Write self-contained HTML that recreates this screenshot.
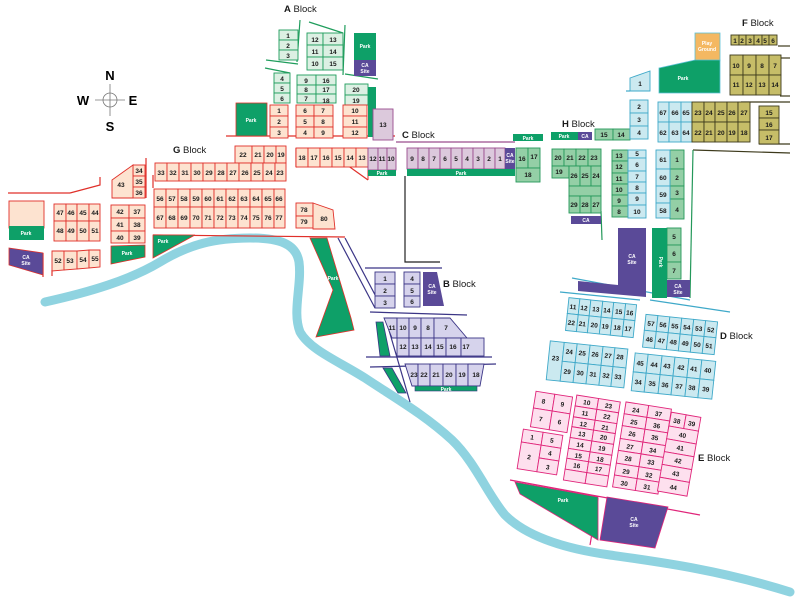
<!DOCTYPE html>
<html><head><meta charset="utf-8"><style>
html,body{margin:0;padding:0;background:#fff;}
svg{display:block;}
text{font-family:"Liberation Sans",sans-serif;}
.t{font-size:6.5px;font-weight:bold;fill:#1a1a1a;text-anchor:middle;}
.w{font-size:5px;font-weight:bold;fill:#fff;text-anchor:middle;}
.lb{font-size:9.5px;fill:#1a1a1a;}
.g rect,.g polygon{fill:#fde3d0;stroke:#e0302a;stroke-width:.9;}
.a rect{fill:#dcf0e3;stroke:#1f9d5c;stroke-width:.9;}
.c rect,.c polygon{fill:#dcc9dc;stroke:#9a4d8e;stroke-width:.9;}
.b rect,.b polygon{fill:#d6d3ec;stroke:#3b3586;stroke-width:.9;}
.h rect{fill:#94cfa6;stroke:#24985a;stroke-width:.9;}
.l rect,.l polygon{fill:#cbe9f0;stroke:#3fa9c9;stroke-width:.9;}
.f rect{fill:#c6bd68;stroke:#3d3a1c;stroke-width:.9;}
.e rect{fill:#fde0ee;stroke:#e0257a;stroke-width:.9;}
.pk{fill:#0ea068;}
.ca{fill:#5a4a98;}
line,polyline{fill:none;}
</style></head><body>
<svg width="800" height="600" viewBox="0 0 800 600" xmlns="http://www.w3.org/2000/svg">
<path d="M45,302 C90,292 130,280 160,262 C190,244 215,238 250,238 C280,238 296,244 299,262 C302,285 292,312 300,332 C310,350 340,362 365,378 C395,398 425,415 452,440 C475,462 488,495 505,515 C525,535 560,548 610,555 C660,562 720,570 790,592" stroke="#8fd3e0" stroke-width="9" fill="none" stroke-linecap="round"/>

<g stroke="#777" stroke-width=".8" fill="none"><circle cx="110" cy="100" r="7"/><line x1="95" y1="100" x2="125" y2="100"/><line x1="110" y1="84" x2="110" y2="116"/></g>
<text x="110" y="80" style="font-size:13px;font-weight:bold;text-anchor:middle">N</text>
<text x="110" y="131" style="font-size:13px;font-weight:bold;text-anchor:middle">S</text>
<text x="83" y="105" style="font-size:13px;font-weight:bold;text-anchor:middle">W</text>
<text x="133" y="105" style="font-size:13px;font-weight:bold;text-anchor:middle">E</text>

<text class="lb" x="284" y="12"><tspan font-weight="bold">A</tspan> Block</text>
<text class="lb" x="173" y="153"><tspan font-weight="bold">G</tspan> Block</text>
<text class="lb" x="402" y="138"><tspan font-weight="bold">C</tspan> Block</text>
<text class="lb" x="562" y="127"><tspan font-weight="bold">H</tspan> Block</text>
<text class="lb" x="742" y="26"><tspan font-weight="bold">F</tspan> Block</text>
<text class="lb" x="443" y="287"><tspan font-weight="bold">B</tspan> Block</text>
<text class="lb" x="720" y="339"><tspan font-weight="bold">D</tspan> Block</text>
<text class="lb" x="698" y="461"><tspan font-weight="bold">E</tspan> Block</text>

<g stroke-width="1.2">
<line x1="300" y1="20" x2="297" y2="62" stroke="#1f9d5c"/>
<line x1="309" y1="22" x2="343" y2="33" stroke="#1f9d5c"/>
<line x1="266" y1="60" x2="298" y2="64" stroke="#1f9d5c"/>
<line x1="265" y1="68" x2="290" y2="73" stroke="#1f9d5c"/>
<line x1="345" y1="74" x2="378" y2="79" stroke="#1f9d5c"/>
<line x1="345" y1="25" x2="343" y2="75" stroke="#1f9d5c"/>
<line x1="226" y1="136" x2="395" y2="136" stroke="#e0302a"/>
<line x1="8" y1="193" x2="70" y2="193" stroke="#e0302a"/>
<polyline points="70,193 100,185 100,177" stroke="#e0302a"/>
<line x1="146" y1="158" x2="146" y2="198" stroke="#e0302a"/>
<line x1="153" y1="175" x2="153" y2="188" stroke="#e0302a"/>
<line x1="296" y1="148" x2="296" y2="167" stroke="#e0302a"/>
<line x1="153" y1="235" x2="345" y2="237" stroke="#e0302a"/>
<line x1="43" y1="253" x2="43" y2="277" stroke="#e0302a"/>
<line x1="52" y1="270" x2="52" y2="276" stroke="#e0302a"/>
<polyline points="296,167 340,160 368,180" stroke="#e0302a"/>
<line x1="396" y1="142" x2="515" y2="142" stroke="#9a4d8e"/>
<polyline points="405,176 405,262 440,262" stroke="#222"/>
<line x1="338" y1="238" x2="375" y2="308" stroke="#3b3586"/>
<line x1="345" y1="238" x2="382" y2="308" stroke="#3b3586"/>
<line x1="365" y1="268" x2="442" y2="268" stroke="#3b3586"/>
<line x1="370" y1="312" x2="467" y2="315" stroke="#3b3586"/>
<line x1="366" y1="357" x2="492" y2="357" stroke="#3b3586"/>
<line x1="370" y1="367" x2="496" y2="364" stroke="#3b3586"/>
<line x1="386" y1="320" x2="410" y2="402" stroke="#3b3586"/>
<line x1="693" y1="150" x2="790" y2="153" stroke="#3d3a1c"/>
<line x1="693" y1="150" x2="690" y2="298" stroke="#24985a"/>
<line x1="741" y1="102" x2="790" y2="102" stroke="#3d3a1c"/>
<line x1="780" y1="58" x2="790" y2="58" stroke="#3d3a1c"/>
<line x1="780" y1="96" x2="790" y2="96" stroke="#3d3a1c"/>
<line x1="778" y1="46" x2="790" y2="46" stroke="#3d3a1c"/>
<line x1="759" y1="144" x2="790" y2="144" stroke="#3d3a1c"/>
<line x1="626" y1="91" x2="630" y2="91" stroke="#3fa9c9"/>
<line x1="572" y1="278" x2="690" y2="300" stroke="#3fa9c9"/>
<line x1="560" y1="292" x2="640" y2="300" stroke="#3fa9c9"/>
<line x1="650" y1="300" x2="730" y2="312" stroke="#3fa9c9"/>
<line x1="510" y1="480" x2="700" y2="515" stroke="#e0257a"/>
<line x1="598" y1="498" x2="590" y2="545" stroke="#e0257a"/>
<line x1="601" y1="211" x2="602" y2="240" stroke="#24985a"/>
</g>

<g class="a">
<rect x="279" y="30" width="19" height="10"/><rect x="279" y="40" width="19" height="10"/><rect x="279" y="50" width="19" height="10"/>
<rect x="307" y="33" width="16" height="12"/><rect x="323" y="33" width="20" height="12"/>
<rect x="307" y="45" width="16" height="12"/><rect x="323" y="45" width="20" height="12"/>
<rect x="307" y="57" width="16" height="13"/><rect x="323" y="57" width="20" height="13"/>
<rect x="274" y="73" width="16" height="10"/><rect x="274" y="83" width="16" height="10"/><rect x="274" y="93" width="16" height="10"/>
<rect x="297" y="75" width="19" height="10"/><rect x="316" y="75" width="20" height="10"/>
<rect x="297" y="85" width="19" height="9"/><rect x="316" y="85" width="20" height="9"/>
<rect x="297" y="94" width="19" height="9"/><rect x="316" y="94" width="20" height="9"/>
<rect x="345" y="84" width="23" height="11"/><rect x="345" y="95" width="23" height="10"/>
</g>
<text class="t" x="288" y="38">1</text><text class="t" x="288" y="48">2</text><text class="t" x="288" y="58">3</text>
<text class="t" x="315" y="42">12</text><text class="t" x="333" y="42">13</text>
<text class="t" x="315" y="54">11</text><text class="t" x="333" y="54">14</text>
<text class="t" x="315" y="66">10</text><text class="t" x="333" y="66">15</text>
<text class="t" x="282" y="81">4</text><text class="t" x="282" y="91">5</text><text class="t" x="282" y="101">6</text>
<text class="t" x="306" y="83">9</text><text class="t" x="326" y="83">16</text>
<text class="t" x="306" y="92">8</text><text class="t" x="326" y="92">17</text>
<text class="t" x="306" y="101">7</text><text class="t" x="326" y="103">18</text>
<text class="t" x="356" y="92">20</text><text class="t" x="356" y="103">19</text>
<rect class="pk" x="354" y="33" width="22" height="27"/><text class="w" x="365" y="48">Park</text>
<rect class="ca" x="354" y="60" width="22" height="16"/><text class="w" x="365" y="67">CA</text><text class="w" x="365" y="73">Site</text>
<rect class="pk" x="368" y="87" width="8" height="50"/>
<rect class="pk" x="236" y="103" width="31" height="33" stroke="#e0302a" stroke-width=".8"/><text class="w" x="251" y="122">Park</text>

<g class="g">
<rect x="270" y="105" width="18" height="11"/><rect x="270" y="116" width="18" height="11"/><rect x="270" y="127" width="18" height="11"/>
<rect x="296" y="105" width="18" height="11"/><rect x="314" y="105" width="19" height="11"/>
<rect x="296" y="116" width="18" height="11"/><rect x="314" y="116" width="19" height="11"/>
<rect x="296" y="127" width="18" height="11"/><rect x="314" y="127" width="19" height="11"/>
<rect x="343" y="105" width="24" height="11"/><rect x="343" y="116" width="24" height="11"/><rect x="343" y="127" width="24" height="11"/>
<rect x="235" y="146" width="17" height="17"/><rect x="252" y="146" width="12" height="17"/><rect x="264" y="146" width="12" height="17"/><rect x="276" y="146" width="10" height="17"/>
<rect x="155" y="163" width="12" height="18"/><rect x="167" y="163" width="12" height="18"/><rect x="179" y="163" width="12" height="18"/><rect x="191" y="163" width="12" height="18"/><rect x="203" y="163" width="12" height="18"/><rect x="215" y="163" width="12" height="18"/><rect x="227" y="163" width="12" height="18"/><rect x="239" y="163" width="12" height="18"/><rect x="251" y="163" width="12" height="18"/><rect x="263" y="163" width="12" height="18"/><rect x="275" y="163" width="11" height="18"/>
<rect x="154" y="189" width="12" height="18"/><rect x="166" y="189" width="12" height="18"/><rect x="178" y="189" width="12" height="18"/><rect x="190" y="189" width="12" height="18"/><rect x="202" y="189" width="12" height="18"/><rect x="214" y="189" width="12" height="18"/><rect x="226" y="189" width="12" height="18"/><rect x="238" y="189" width="12" height="18"/><rect x="250" y="189" width="12" height="18"/><rect x="262" y="189" width="12" height="18"/><rect x="274" y="189" width="11" height="18"/>
<rect x="154" y="207" width="12" height="21"/><rect x="166" y="207" width="12" height="21"/><rect x="178" y="207" width="12" height="21"/><rect x="190" y="207" width="12" height="21"/><rect x="202" y="207" width="12" height="21"/><rect x="214" y="207" width="12" height="21"/><rect x="226" y="207" width="12" height="21"/><rect x="238" y="207" width="12" height="21"/><rect x="250" y="207" width="12" height="21"/><rect x="262" y="207" width="12" height="21"/><rect x="274" y="207" width="11" height="21"/>
<rect x="296" y="148" width="12" height="19"/><rect x="308" y="148" width="12" height="19"/><rect x="320" y="148" width="12" height="19"/><rect x="332" y="148" width="12" height="19"/><rect x="344" y="148" width="12" height="19"/><rect x="356" y="148" width="12" height="19"/>
<rect x="296" y="203" width="17" height="13"/><rect x="296" y="216" width="17" height="12"/>
<polygon points="313,203 333,210 335,229 313,229"/>
<rect x="133" y="165" width="12" height="11"/><rect x="133" y="176" width="12" height="11"/><rect x="133" y="187" width="12" height="11"/>
<polygon points="112,180 133,165 133,198 112,198"/>
<rect x="111" y="205" width="18" height="13"/><rect x="129" y="205" width="16" height="13"/>
<rect x="111" y="218" width="18" height="13"/><rect x="129" y="218" width="16" height="13"/>
<rect x="111" y="231" width="18" height="12"/><rect x="129" y="231" width="16" height="12"/>
<rect x="54" y="204" width="12" height="17"/><rect x="66" y="204" width="11" height="17"/><rect x="77" y="204" width="12" height="17"/><rect x="89" y="204" width="11" height="17"/>
<rect x="54" y="221" width="12" height="20"/><rect x="66" y="221" width="11" height="20"/><rect x="77" y="221" width="12" height="20"/><rect x="89" y="221" width="11" height="20"/>
<polygon points="52,251 64,251 64,270 52,271"/><polygon points="64,251 77,251 77,269 64,270"/><polygon points="77,251 89,250 89,268 77,269"/><polygon points="89,250 100,250 100,267 89,268"/>
<rect x="9" y="201" width="35" height="27"/>
</g>
<polyline points="368,167 368,180" stroke="#e0302a"/>
<text class="t" x="279" y="113">1</text><text class="t" x="279" y="124">2</text><text class="t" x="279" y="135">3</text>
<text class="t" x="305" y="113">6</text><text class="t" x="323" y="113">7</text>
<text class="t" x="305" y="124">5</text><text class="t" x="323" y="124">8</text>
<text class="t" x="305" y="135">4</text><text class="t" x="323" y="135">9</text>
<text class="t" x="355" y="113">10</text><text class="t" x="355" y="124">11</text><text class="t" x="355" y="135">12</text>
<text class="t" x="243" y="157">22</text><text class="t" x="258" y="157">21</text><text class="t" x="270" y="157">20</text><text class="t" x="281" y="157">19</text>
<g class="t">
<text x="161" y="175">33</text><text x="173" y="175">32</text><text x="185" y="175">31</text><text x="197" y="175">30</text><text x="209" y="175">29</text><text x="221" y="175">28</text><text x="233" y="175">27</text><text x="245" y="175">26</text><text x="257" y="175">25</text><text x="269" y="175">24</text><text x="280" y="175">23</text>
<text x="160" y="201">56</text><text x="172" y="201">57</text><text x="184" y="201">58</text><text x="196" y="201">59</text><text x="208" y="201">60</text><text x="220" y="201">61</text><text x="232" y="201">62</text><text x="244" y="201">63</text><text x="256" y="201">64</text><text x="268" y="201">65</text><text x="279" y="201">66</text>
<text x="160" y="220">67</text><text x="172" y="220">68</text><text x="184" y="220">69</text><text x="196" y="220">70</text><text x="208" y="220">71</text><text x="220" y="220">72</text><text x="232" y="220">73</text><text x="244" y="220">74</text><text x="256" y="220">75</text><text x="268" y="220">76</text><text x="279" y="220">77</text>
<text x="302" y="160">18</text><text x="314" y="160">17</text><text x="326" y="160">16</text><text x="338" y="160">15</text><text x="350" y="160">14</text><text x="362" y="160">13</text>
<text x="304" y="212">78</text><text x="304" y="224">79</text><text x="324" y="221">80</text>
<text x="139" y="173">34</text><text x="139" y="184">35</text><text x="139" y="195">36</text><text x="121" y="187">43</text>
<text x="120" y="214">42</text><text x="137" y="214">37</text><text x="120" y="227">41</text><text x="137" y="227">38</text><text x="120" y="240">40</text><text x="137" y="240">39</text>
<text x="60" y="215">47</text><text x="71" y="215">46</text><text x="83" y="215">45</text><text x="95" y="215">44</text>
<text x="60" y="233">48</text><text x="71" y="233">49</text><text x="83" y="233">50</text><text x="95" y="233">51</text>
<text x="58" y="263">52</text><text x="70" y="263">53</text><text x="83" y="262">54</text><text x="95" y="261">55</text>
</g>
<rect class="pk" x="9" y="226" width="35" height="14"/><text class="w" x="26" y="235">Park</text>
<polygon class="ca" points="9,248 43,253 43,275 9,265" stroke="#e0302a" stroke-width=".8"/><text class="w" x="26" y="259">CA</text><text class="w" x="26" y="265">Site</text>
<polygon class="pk" points="111,246 145,245 145,257 111,264" stroke="#e0302a" stroke-width=".8"/><text class="w" x="127" y="255">Park</text>
<polygon class="pk" points="153,235 195,235 153,258" stroke="#e0302a" stroke-width=".8"/><text class="w" x="163" y="243">Park</text>
<polygon class="pk" points="310,238 327,238 351,318 354,330 316,337 333,290" stroke="#e0302a" stroke-width=".8"/><text class="w" x="333" y="280">Park</text>

<g class="c">
<rect x="373" y="109" width="20" height="31"/>
<rect x="368" y="148" width="10" height="22"/><rect x="378" y="148" width="9" height="22"/><rect x="387" y="148" width="9" height="22"/>
<rect x="407" y="148" width="11" height="21"/><rect x="418" y="148" width="11" height="21"/><rect x="429" y="148" width="11" height="21"/><rect x="440" y="148" width="11" height="21"/><rect x="451" y="148" width="11" height="21"/><rect x="462" y="148" width="11" height="21"/><rect x="473" y="148" width="11" height="21"/><rect x="484" y="148" width="11" height="21"/><rect x="495" y="148" width="10" height="21"/>
</g>
<text class="t" x="383" y="127">13</text>
<text class="t" x="373" y="161">12</text><text class="t" x="382" y="161">11</text><text class="t" x="391" y="161">10</text>
<rect class="pk" x="368" y="170" width="28" height="6"/><text class="w" x="382" y="175">Park</text>
<g class="t"><text x="412" y="161">9</text><text x="423" y="161">8</text><text x="434" y="161">7</text><text x="445" y="161">6</text><text x="456" y="161">5</text><text x="467" y="161">4</text><text x="478" y="161">3</text><text x="489" y="161">2</text><text x="500" y="161">1</text></g>
<rect class="ca" x="505" y="148" width="10" height="21"/><text class="w" x="510" y="157">CA</text><text class="w" x="510" y="163">Site</text>
<rect class="pk" x="407" y="169" width="108" height="7"/><text class="w" x="461" y="175">Park</text>

<g class="h">
<rect x="516" y="148" width="12" height="20"/><rect x="528" y="148" width="12" height="20"/><rect x="516" y="168" width="24" height="14"/>
<rect x="595" y="129" width="18" height="11"/><rect x="613" y="129" width="17" height="11"/>
<rect x="552" y="149" width="12" height="17"/><rect x="564" y="149" width="12" height="17"/><rect x="576" y="149" width="12" height="17"/><rect x="588" y="149" width="13" height="17"/>
<rect x="552" y="166" width="17" height="12"/>
<rect x="569" y="166" width="11" height="20"/><rect x="580" y="166" width="11" height="20"/><rect x="591" y="166" width="10" height="20"/>
<rect x="569" y="186" width="32" height="10"/>
<rect x="569" y="196" width="11" height="17"/><rect x="580" y="196" width="11" height="17"/><rect x="591" y="196" width="10" height="17"/>
<rect x="612" y="150" width="16" height="11"/><rect x="612" y="161" width="16" height="12"/><rect x="612" y="173" width="16" height="11"/><rect x="612" y="184" width="16" height="11"/><rect x="612" y="195" width="16" height="11"/><rect x="612" y="206" width="16" height="11"/>
<rect x="670" y="150" width="14" height="19"/><rect x="670" y="169" width="14" height="17"/><rect x="670" y="186" width="14" height="13"/><rect x="670" y="199" width="14" height="20"/>
<rect x="667" y="228" width="14" height="17"/><rect x="667" y="245" width="14" height="17"/><rect x="667" y="262" width="14" height="17"/>
</g>
<g class="t">
<text x="522" y="161">16</text><text x="534" y="159">17</text><text x="528" y="177">18</text>
<text x="604" y="137">15</text><text x="621" y="137">14</text>
<text x="558" y="160">20</text><text x="570" y="160">21</text><text x="582" y="160">22</text><text x="594" y="160">23</text>
<text x="559" y="174">19</text>
<text x="574" y="178">26</text><text x="585" y="178">25</text><text x="596" y="178">24</text>
<text x="574" y="207">29</text><text x="585" y="207">28</text><text x="596" y="207">27</text>
<text x="619" y="158">13</text><text x="619" y="169">12</text><text x="619" y="181">11</text><text x="619" y="192">10</text><text x="619" y="203">9</text><text x="619" y="214">8</text>
<text x="677" y="162">1</text><text x="677" y="180">2</text><text x="677" y="195">3</text><text x="677" y="212">4</text>
<text x="674" y="239">5</text><text x="674" y="256">6</text><text x="674" y="273">7</text>
</g>
<rect class="pk" x="513" y="134" width="30" height="7"/><text class="w" x="528" y="140">Park</text>
<rect class="pk" x="551" y="132" width="27" height="8"/><text class="w" x="564" y="138">Park</text>
<rect class="ca" x="578" y="132" width="14" height="8"/><text class="w" x="585" y="138">CA</text>
<rect class="ca" x="571" y="216" width="30" height="8"/><text class="w" x="586" y="222">CA</text>
<polygon class="ca" points="618,228 646,228 646,297 578,291 578,281 618,285"/><text class="w" x="632" y="258">CA</text><text class="w" x="632" y="264">Site</text>
<rect class="pk" x="652" y="228" width="15" height="70"/><text class="w" x="659" y="262" transform="rotate(90 659 262)">Park</text>
<rect class="ca" x="667" y="280" width="23" height="17"/><text class="w" x="678" y="288">CA</text><text class="w" x="678" y="294">Site</text>

<g class="l">
<polygon points="630,78 650,71 650,91 630,91"/>
<rect x="630" y="100" width="18" height="13"/><rect x="630" y="113" width="18" height="13"/><rect x="630" y="126" width="18" height="13"/>
<rect x="628" y="150" width="18" height="8"/><rect x="628" y="158" width="18" height="13"/><rect x="628" y="171" width="18" height="11"/><rect x="628" y="182" width="18" height="11"/><rect x="628" y="193" width="18" height="12"/><rect x="628" y="205" width="18" height="13"/>
<rect x="658" y="102" width="11" height="20"/><rect x="669" y="102" width="12" height="20"/><rect x="681" y="102" width="11" height="20"/>
<rect x="658" y="122" width="11" height="20"/><rect x="669" y="122" width="12" height="20"/><rect x="681" y="122" width="11" height="20"/>
<rect x="656" y="150" width="14" height="19"/><rect x="656" y="169" width="14" height="17"/><rect x="656" y="186" width="14" height="17"/><rect x="656" y="203" width="14" height="15"/>
</g>
<g class="t">
<text x="640" y="86">1</text><text x="639" y="109">2</text><text x="639" y="122">3</text><text x="639" y="135">4</text>
<text x="637" y="156">5</text><text x="637" y="167">6</text><text x="637" y="179">7</text><text x="637" y="190">8</text><text x="637" y="201">9</text><text x="637" y="214">10</text>
<text x="663" y="115">67</text><text x="675" y="115">66</text><text x="686" y="115">65</text>
<text x="663" y="135">62</text><text x="675" y="135">63</text><text x="686" y="135">64</text>
<text x="663" y="162">61</text><text x="663" y="180">60</text><text x="663" y="197">59</text><text x="663" y="213">58</text>
</g>

<g class="f">
<rect x="692" y="102" width="12" height="20"/><rect x="704" y="102" width="11" height="20"/><rect x="715" y="102" width="12" height="20"/><rect x="727" y="102" width="11" height="20"/><rect x="738" y="102" width="12" height="20"/>
<rect x="692" y="122" width="12" height="20"/><rect x="704" y="122" width="11" height="20"/><rect x="715" y="122" width="12" height="20"/><rect x="727" y="122" width="11" height="20"/><rect x="738" y="122" width="12" height="20"/>
<rect x="759" y="106" width="20" height="12"/><rect x="759" y="118" width="20" height="12"/><rect x="759" y="130" width="20" height="14"/>
<rect x="731" y="35" width="8" height="10"/><rect x="739" y="35" width="7" height="10"/><rect x="746" y="35" width="8" height="10"/><rect x="754" y="35" width="8" height="10"/><rect x="762" y="35" width="7" height="10"/><rect x="769" y="35" width="8" height="10"/>
<rect x="730" y="55" width="13" height="20"/><rect x="743" y="55" width="13" height="20"/><rect x="756" y="55" width="13" height="20"/><rect x="769" y="55" width="12" height="20"/>
<rect x="730" y="75" width="13" height="20"/><rect x="743" y="75" width="13" height="20"/><rect x="756" y="75" width="13" height="20"/><rect x="769" y="75" width="12" height="20"/>
</g>
<g class="t">
<text x="698" y="115">23</text><text x="709" y="115">24</text><text x="721" y="115">25</text><text x="732" y="115">26</text><text x="744" y="115">27</text>
<text x="698" y="135">22</text><text x="709" y="135">21</text><text x="721" y="135">20</text><text x="732" y="135">19</text><text x="744" y="135">18</text>
<text x="769" y="115">15</text><text x="769" y="127">16</text><text x="769" y="140">17</text>
<text x="735" y="43">1</text><text x="742" y="43">2</text><text x="750" y="43">3</text><text x="758" y="43">4</text><text x="765" y="43">5</text><text x="773" y="43">6</text>
<text x="736" y="68">10</text><text x="749" y="68">9</text><text x="762" y="68">8</text><text x="775" y="68">7</text>
<text x="736" y="87">11</text><text x="749" y="87">12</text><text x="762" y="87">13</text><text x="775" y="87">14</text>
</g>
<rect x="695" y="33" width="25" height="28" fill="#f4b862" stroke="#5cc0d8" stroke-width=".8"/><text class="w" x="707" y="45">Play</text><text class="w" x="707" y="51">Ground</text>
<polygon class="pk" points="659,68 695,60 720,60 720,93 659,93" stroke="#5cc0d8" stroke-width=".8"/><text class="w" x="683" y="80">Park</text>

<g class="b">
<rect x="375" y="272" width="20" height="12"/><rect x="375" y="284" width="20" height="12"/><rect x="375" y="296" width="20" height="12"/>
<rect x="404" y="272" width="16" height="12"/><rect x="404" y="284" width="16" height="12"/><rect x="404" y="296" width="16" height="11"/>
<polygon points="384,318 397,318 397,338 392,338"/><rect x="397" y="318" width="12" height="20"/><rect x="409" y="318" width="12" height="20"/><rect x="421" y="318" width="13" height="20"/><polygon points="434,318 450,318 467,338 434,338"/>
<rect x="397" y="338" width="12" height="18"/><rect x="409" y="338" width="12" height="18"/><rect x="421" y="338" width="13" height="18"/><rect x="434" y="338" width="12" height="18"/><rect x="446" y="338" width="15" height="18"/><rect x="461" y="338" width="23" height="18"/>
<polygon points="405,364 418,364 418,386 412,386"/><rect x="418" y="364" width="12" height="22"/><rect x="430" y="364" width="13" height="22"/><rect x="443" y="364" width="13" height="22"/><rect x="456" y="364" width="12" height="22"/><polygon points="468,364 484,364 480,386 468,386"/>
</g>
<g class="t">
<text x="385" y="281">1</text><text x="385" y="293">2</text><text x="385" y="305">3</text>
<text x="412" y="281">4</text><text x="412" y="293">5</text><text x="412" y="304">6</text>
<text x="392" y="330">11</text><text x="403" y="330">10</text><text x="415" y="330">9</text><text x="428" y="330">8</text><text x="446" y="330">7</text>
<text x="403" y="349">12</text><text x="415" y="349">13</text><text x="428" y="349">14</text><text x="440" y="349">15</text><text x="453" y="349">16</text><text x="466" y="349">17</text>
<text x="414" y="377">23</text><text x="424" y="377">22</text><text x="436" y="377">21</text><text x="449" y="377">20</text><text x="462" y="377">19</text><text x="476" y="377">18</text>
</g>
<polygon class="ca" points="423,272 437,272 444,306 423,306"/><text class="w" x="432" y="288">CA</text><text class="w" x="432" y="294">Site</text>
<polygon class="pk" points="376,322 383,322 390,356 380,356" stroke="#3b3586" stroke-width=".8"/>
<rect class="pk" x="415" y="386" width="62" height="5" stroke="#3b3586" stroke-width=".6"/><text class="w" x="446" y="391">Park</text>
<polygon class="pk" points="383,368 392,368 406,393 398,393" stroke="#3b3586" stroke-width=".8"/>

<g class="l" transform="rotate(6 600 318)">
<rect x="567" y="301" width="11" height="16"/><rect x="578" y="301" width="11" height="16"/><rect x="589" y="301" width="12" height="16"/><rect x="601" y="301" width="11" height="16"/><rect x="612" y="301" width="12" height="16"/><rect x="624" y="301" width="11" height="16"/>
<rect x="567" y="317" width="11" height="17"/><rect x="578" y="317" width="11" height="17"/><rect x="589" y="317" width="12" height="17"/><rect x="601" y="317" width="11" height="17"/><rect x="612" y="317" width="12" height="17"/><rect x="624" y="317" width="11" height="17"/>
<g class="t"><text x="572" y="312">11</text><text x="583" y="312">12</text><text x="595" y="312">13</text><text x="606" y="312">14</text><text x="618" y="312">15</text><text x="629" y="312">16</text>
<text x="572" y="328">22</text><text x="583" y="328">21</text><text x="595" y="328">20</text><text x="606" y="328">19</text><text x="618" y="328">18</text><text x="629" y="328">17</text></g>
</g>
<g class="l" transform="rotate(6 680 335)">
<rect x="644" y="318" width="12" height="16"/><rect x="656" y="318" width="12" height="16"/><rect x="668" y="318" width="12" height="16"/><rect x="680" y="318" width="12" height="16"/><rect x="692" y="318" width="12" height="16"/><rect x="704" y="318" width="12" height="16"/>
<rect x="644" y="334" width="12" height="17"/><rect x="656" y="334" width="12" height="17"/><rect x="668" y="334" width="12" height="17"/><rect x="680" y="334" width="12" height="17"/><rect x="692" y="334" width="12" height="17"/><rect x="704" y="334" width="12" height="17"/>
<g class="t"><text x="650" y="329">57</text><text x="662" y="329">56</text><text x="674" y="329">55</text><text x="686" y="329">54</text><text x="698" y="329">53</text><text x="710" y="329">52</text>
<text x="650" y="345">46</text><text x="662" y="345">47</text><text x="674" y="345">48</text><text x="686" y="345">49</text><text x="698" y="345">50</text><text x="710" y="345">51</text></g>
</g>
<g class="l" transform="rotate(6 588 365)">
<rect x="548" y="345" width="14" height="39"/>
<rect x="562" y="345" width="13" height="19"/><rect x="575" y="345" width="13" height="19"/><rect x="588" y="345" width="13" height="19"/><rect x="601" y="345" width="12" height="19"/><rect x="613" y="345" width="13" height="19"/>
<rect x="562" y="364" width="13" height="20"/><rect x="575" y="364" width="13" height="20"/><rect x="588" y="364" width="13" height="20"/><rect x="601" y="364" width="12" height="20"/><rect x="613" y="364" width="13" height="20"/>
<g class="t"><text x="555" y="364">23</text><text x="568" y="356">24</text><text x="581" y="356">25</text><text x="594" y="356">26</text><text x="607" y="356">27</text><text x="619" y="356">28</text>
<text x="568" y="376">29</text><text x="581" y="376">30</text><text x="594" y="376">31</text><text x="607" y="376">32</text><text x="619" y="376">33</text></g>
</g>
<g class="l" transform="rotate(6 673 376)">
<rect x="633" y="357" width="13" height="19"/><rect x="646" y="357" width="14" height="19"/><rect x="660" y="357" width="13" height="19"/><rect x="673" y="357" width="14" height="19"/><rect x="687" y="357" width="13" height="19"/><rect x="700" y="357" width="14" height="19"/>
<rect x="633" y="376" width="13" height="19"/><rect x="646" y="376" width="14" height="19"/><rect x="660" y="376" width="13" height="19"/><rect x="673" y="376" width="14" height="19"/><rect x="687" y="376" width="13" height="19"/><rect x="700" y="376" width="14" height="19"/>
<g class="t"><text x="639" y="369">45</text><text x="653" y="369">44</text><text x="666" y="369">43</text><text x="680" y="369">42</text><text x="693" y="369">41</text><text x="707" y="369">40</text>
<text x="639" y="388">34</text><text x="653" y="388">35</text><text x="666" y="388">36</text><text x="680" y="388">37</text><text x="693" y="388">38</text><text x="707" y="388">39</text></g>
</g>

<g class="e" transform="rotate(9 552 412)">
<rect x="533" y="394" width="19" height="17"/><rect x="552" y="394" width="18" height="17"/><rect x="533" y="411" width="19" height="19"/><rect x="552" y="411" width="18" height="19"/>
<g class="t"><text x="542" y="405">8</text><text x="561" y="405">9</text><text x="542" y="423">7</text><text x="561" y="423">6</text></g>
</g>
<g class="e" transform="rotate(9 540 452)">
<rect x="520" y="432" width="20" height="13"/><rect x="520" y="445" width="20" height="27"/><rect x="540" y="432" width="20" height="13"/><rect x="540" y="445" width="20" height="13"/><rect x="540" y="458" width="20" height="14"/>
<g class="t"><text x="530" y="441">1</text><text x="530" y="461">2</text><text x="550" y="441">5</text><text x="550" y="454">4</text><text x="550" y="468">3</text></g>
</g>
<g class="e" transform="rotate(9 592 440)">
<rect x="570" y="398" width="22" height="11"/><rect x="592" y="398" width="22" height="11"/>
<rect x="570" y="409" width="22" height="11"/><rect x="592" y="409" width="22" height="11"/>
<rect x="570" y="420" width="22" height="10"/><rect x="592" y="420" width="22" height="10"/>
<rect x="570" y="430" width="22" height="11"/><rect x="592" y="430" width="22" height="11"/>
<rect x="570" y="441" width="22" height="11"/><rect x="592" y="441" width="22" height="11"/>
<rect x="570" y="452" width="22" height="10"/><rect x="592" y="452" width="22" height="10"/>
<rect x="570" y="462" width="22" height="11"/><rect x="592" y="462" width="22" height="11"/>
<rect x="570" y="473" width="22" height="11"/><rect x="592" y="473" width="22" height="11"/>
<g class="t"><text x="581" y="406">10</text><text x="603" y="406">23</text><text x="581" y="417">11</text><text x="603" y="417">22</text><text x="581" y="428">12</text><text x="603" y="428">21</text><text x="581" y="438">13</text><text x="603" y="438">20</text><text x="581" y="449">14</text><text x="603" y="449">19</text><text x="581" y="460">15</text><text x="603" y="460">18</text><text x="581" y="470">16</text><text x="603" y="470">17</text></g>
</g>
<g class="e" transform="rotate(9 642 448)">
<rect x="619" y="405" width="23" height="12"/><rect x="642" y="405" width="23" height="12"/>
<rect x="619" y="417" width="23" height="12"/><rect x="642" y="417" width="23" height="12"/>
<rect x="619" y="429" width="23" height="13"/><rect x="642" y="429" width="23" height="13"/>
<rect x="619" y="442" width="23" height="12"/><rect x="642" y="442" width="23" height="12"/>
<rect x="619" y="454" width="23" height="13"/><rect x="642" y="454" width="23" height="13"/>
<rect x="619" y="467" width="23" height="12"/><rect x="642" y="467" width="23" height="12"/>
<rect x="619" y="479" width="23" height="12"/><rect x="642" y="479" width="23" height="12"/>
<g class="t"><text x="630" y="414">24</text><text x="653" y="414">37</text><text x="630" y="426">25</text><text x="653" y="426">36</text><text x="630" y="438">26</text><text x="653" y="438">35</text><text x="630" y="451">27</text><text x="653" y="451">34</text><text x="630" y="463">28</text><text x="653" y="463">33</text><text x="630" y="476">29</text><text x="653" y="476">32</text><text x="630" y="488">30</text><text x="653" y="488">31</text></g>
</g>
<g class="e" transform="rotate(10 678 455)">
<rect x="664" y="414" width="15" height="14"/><rect x="679" y="414" width="15" height="14"/>
<rect x="664" y="428" width="30" height="13"/><rect x="664" y="441" width="30" height="13"/><rect x="664" y="454" width="30" height="13"/><rect x="664" y="467" width="30" height="13"/><rect x="664" y="480" width="30" height="14"/>
<g class="t"><text x="671" y="424">38</text><text x="686" y="424">39</text><text x="679" y="437">40</text><text x="679" y="450">41</text><text x="679" y="463">42</text><text x="679" y="476">43</text><text x="679" y="490">44</text></g>
</g>
<polygon class="pk" points="515,482 598,497 598,540 520,494" stroke="#e0257a" stroke-width=".8"/><text class="w" x="563" y="502">Park</text>
<polygon class="ca" points="607,497 668,507 655,548 600,540" stroke="#e0257a" stroke-width=".8"/><text class="w" x="634" y="521">CA</text><text class="w" x="634" y="527">Site</text>
</svg>
</body></html>
